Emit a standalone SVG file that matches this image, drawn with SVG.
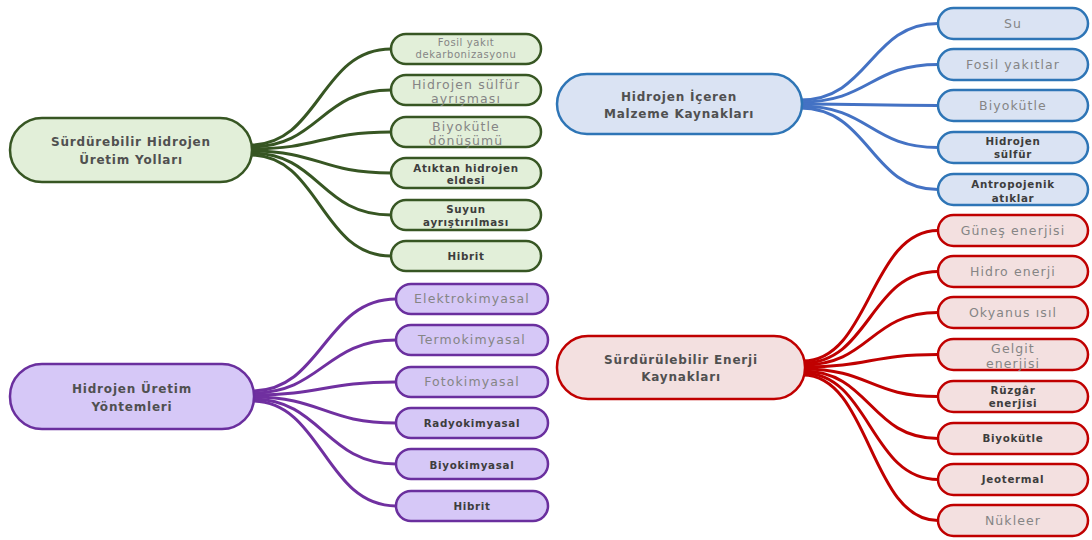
<svg xmlns="http://www.w3.org/2000/svg" width="1092" height="540" viewBox="0 0 1092 540">
<style>
text{font-family:"DejaVu Sans","Liberation Sans",sans-serif;text-anchor:middle}
.root{font-size:12px;font-weight:bold;fill:#505050;letter-spacing:0.8px}
.lt{font-size:12.5px;fill:#858585;letter-spacing:1.1px}
.sm{font-size:10px;fill:#858585;letter-spacing:0.6px}
.bd{font-size:10.3px;font-weight:bold;fill:#3d3d3d;letter-spacing:0.7px}
.g rect{fill:#e2efd9;stroke:#375623;stroke-width:2.5}
.b rect{fill:#dae3f3;stroke:#2e75b6;stroke-width:2.5}
.p rect{fill:#d6c8f7;stroke:#6a2f9e;stroke-width:2.5}
.r rect{fill:#f3e0e0;stroke:#c00000;stroke-width:2.5}
#connectors path{fill:none;stroke-width:3}
.cg{stroke:#375623}.cb{stroke:#4472c4}.cp{stroke:#7030a0}.cr{stroke:#c00000}
</style>
<rect width="1092" height="540" fill="#ffffff"/>
<g id="connectors">
<path class="cg" d="M250,145 C320,145 320,49 391,49"/>
<path class="cg" d="M250,147 C320,147 320,90 391,90"/>
<path class="cg" d="M250,149 C320,149 320,132 391,132"/>
<path class="cg" d="M250,151 C320,151 320,173 391,173"/>
<path class="cg" d="M250,153 C320,153 320,215 391,215"/>
<path class="cg" d="M250,155 C320,155 320,256 391,256"/>
<path class="cp" d="M252,391 C322,391 325,299 396,299"/>
<path class="cp" d="M252,393 C322,393 325,340 396,340"/>
<path class="cp" d="M252,395 C322,395 325,382 396,382"/>
<path class="cp" d="M252,397 C322,397 325,423 396,423"/>
<path class="cp" d="M252,399 C322,399 325,464 396,464"/>
<path class="cp" d="M252,401 C322,401 325,506 396,506"/>
<path class="cb" d="M800,100 C870,100 870,23.5 938,23.5"/>
<path class="cb" d="M800,102 C870,102 870,64.5 938,64.5"/>
<path class="cb" d="M800,104 C870,104 870,105.5 938,105.5"/>
<path class="cb" d="M800,106 C870,106 870,147.5 938,147.5"/>
<path class="cb" d="M800,108 C870,108 870,189.5 938,189.5"/>
<path class="cr" d="M803,361 C870,361 870,230.5 938,230.5"/>
<path class="cr" d="M803,363 C870,363 870,271.5 938,271.5"/>
<path class="cr" d="M803,365 C870,365 870,312.5 938,312.5"/>
<path class="cr" d="M803,367 C870,367 870,354.5 938,354.5"/>
<path class="cr" d="M803,369 C870,369 870,396.5 938,396.5"/>
<path class="cr" d="M803,371 C870,371 870,438.5 938,438.5"/>
<path class="cr" d="M803,373 C870,373 870,479.5 938,479.5"/>
<path class="cr" d="M803,375 C870,375 870,520.5 938,520.5"/>
</g>
<g id="green-root" class="g"><rect x="10" y="118" width="242" height="64" rx="32"/><text class="root" x="131" y="146">Sürdürebilir Hidrojen</text><text class="root" x="131" y="164">Üretim Yolları</text></g>
<g id="g1" class="g"><rect x="391" y="34" width="150" height="30" rx="15"/><text class="sm" x="466" y="46">Fosil yakıt</text><text class="sm" x="466" y="58">dekarbonizasyonu</text></g>
<g id="g2" class="g"><rect x="391" y="75" width="150" height="30" rx="15"/><text class="lt" x="466" y="89">Hidrojen sülfür</text><text class="lt" x="466" y="103">ayrışması</text></g>
<g id="g3" class="g"><rect x="391" y="117" width="150" height="30" rx="15"/><text class="lt" x="466" y="131">Biyokütle</text><text class="lt" x="466" y="145">dönüşümü</text></g>
<g id="g4" class="g"><rect x="391" y="158" width="150" height="30" rx="15"/><text class="bd" x="466" y="172">Atıktan hidrojen</text><text class="bd" x="466" y="184">eldesi</text></g>
<g id="g5" class="g"><rect x="391" y="200" width="150" height="30" rx="15"/><text class="bd" x="466" y="213">Suyun</text><text class="bd" x="466" y="226">ayrıştırılması</text></g>
<g id="g6" class="g"><rect x="391" y="241" width="150" height="30" rx="15"/><text class="bd" x="466" y="260">Hibrit</text></g>
<g id="purple-root" class="p"><rect x="10" y="364" width="244" height="65" rx="32"/><text class="root" x="132" y="393">Hidrojen Üretim</text><text class="root" x="132" y="411">Yöntemleri</text></g>
<g id="p1" class="p"><rect x="396" y="284" width="152" height="30" rx="15"/><text class="lt" x="472" y="303">Elektrokimyasal</text></g>
<g id="p2" class="p"><rect x="396" y="325" width="152" height="30" rx="15"/><text class="lt" x="472" y="344">Termokimyasal</text></g>
<g id="p3" class="p"><rect x="396" y="367" width="152" height="30" rx="15"/><text class="lt" x="472" y="386">Fotokimyasal</text></g>
<g id="p4" class="p"><rect x="396" y="408" width="152" height="30" rx="15"/><text class="bd" x="472" y="427">Radyokimyasal</text></g>
<g id="p5" class="p"><rect x="396" y="449" width="152" height="30" rx="15"/><text class="bd" x="472" y="469">Biyokimyasal</text></g>
<g id="p6" class="p"><rect x="396" y="491" width="152" height="30" rx="15"/><text class="bd" x="472" y="510">Hibrit</text></g>
<g id="blue-root" class="b"><rect x="557" y="74" width="245" height="60" rx="30"/><text class="root" x="679" y="101">Hidrojen İçeren</text><text class="root" x="679" y="118">Malzeme Kaynakları</text></g>
<g id="b1" class="b"><rect x="938" y="8" width="150" height="31" rx="15.5"/><text class="lt" x="1013" y="28">Su</text></g>
<g id="b2" class="b"><rect x="938" y="49" width="150" height="31" rx="15.5"/><text class="lt" x="1013" y="69">Fosil yakıtlar</text></g>
<g id="b3" class="b"><rect x="938" y="90" width="150" height="31" rx="15.5"/><text class="lt" x="1013" y="110">Biyokütle</text></g>
<g id="b4" class="b"><rect x="938" y="132" width="150" height="31" rx="15.5"/><text class="bd" x="1013" y="145">Hidrojen</text><text class="bd" x="1013" y="158">sülfür</text></g>
<g id="b5" class="b"><rect x="938" y="174" width="150" height="31" rx="15.5"/><text class="bd" x="1013" y="188">Antropojenik</text><text class="bd" x="1013" y="202">atıklar</text></g>
<g id="red-root" class="r"><rect x="557" y="336" width="248" height="63" rx="31"/><text class="root" x="681" y="364">Sürdürülebilir Enerji</text><text class="root" x="681" y="381">Kaynakları</text></g>
<g id="r1" class="r"><rect x="938" y="215" width="150" height="31" rx="15.5"/><text class="lt" x="1013" y="235">Güneş enerjisi</text></g>
<g id="r2" class="r"><rect x="938" y="256" width="150" height="31" rx="15.5"/><text class="lt" x="1013" y="276">Hidro enerji</text></g>
<g id="r3" class="r"><rect x="938" y="297" width="150" height="31" rx="15.5"/><text class="lt" x="1013" y="317">Okyanus ısıl</text></g>
<g id="r4" class="r"><rect x="938" y="339" width="150" height="31" rx="15.5"/><text class="lt" x="1013" y="353">Gelgit</text><text class="lt" x="1013" y="368">enerjisi</text></g>
<g id="r5" class="r"><rect x="938" y="381" width="150" height="31" rx="15.5"/><text class="bd" x="1013" y="394">Rüzgâr</text><text class="bd" x="1013" y="407">enerjisi</text></g>
<g id="r6" class="r"><rect x="938" y="423" width="150" height="31" rx="15.5"/><text class="bd" x="1013" y="442">Biyokütle</text></g>
<g id="r7" class="r"><rect x="938" y="464" width="150" height="31" rx="15.5"/><text class="bd" x="1013" y="483">Jeotermal</text></g>
<g id="r8" class="r"><rect x="938" y="505" width="150" height="31" rx="15.5"/><text class="lt" x="1013" y="525">Nükleer</text></g>
</svg>
